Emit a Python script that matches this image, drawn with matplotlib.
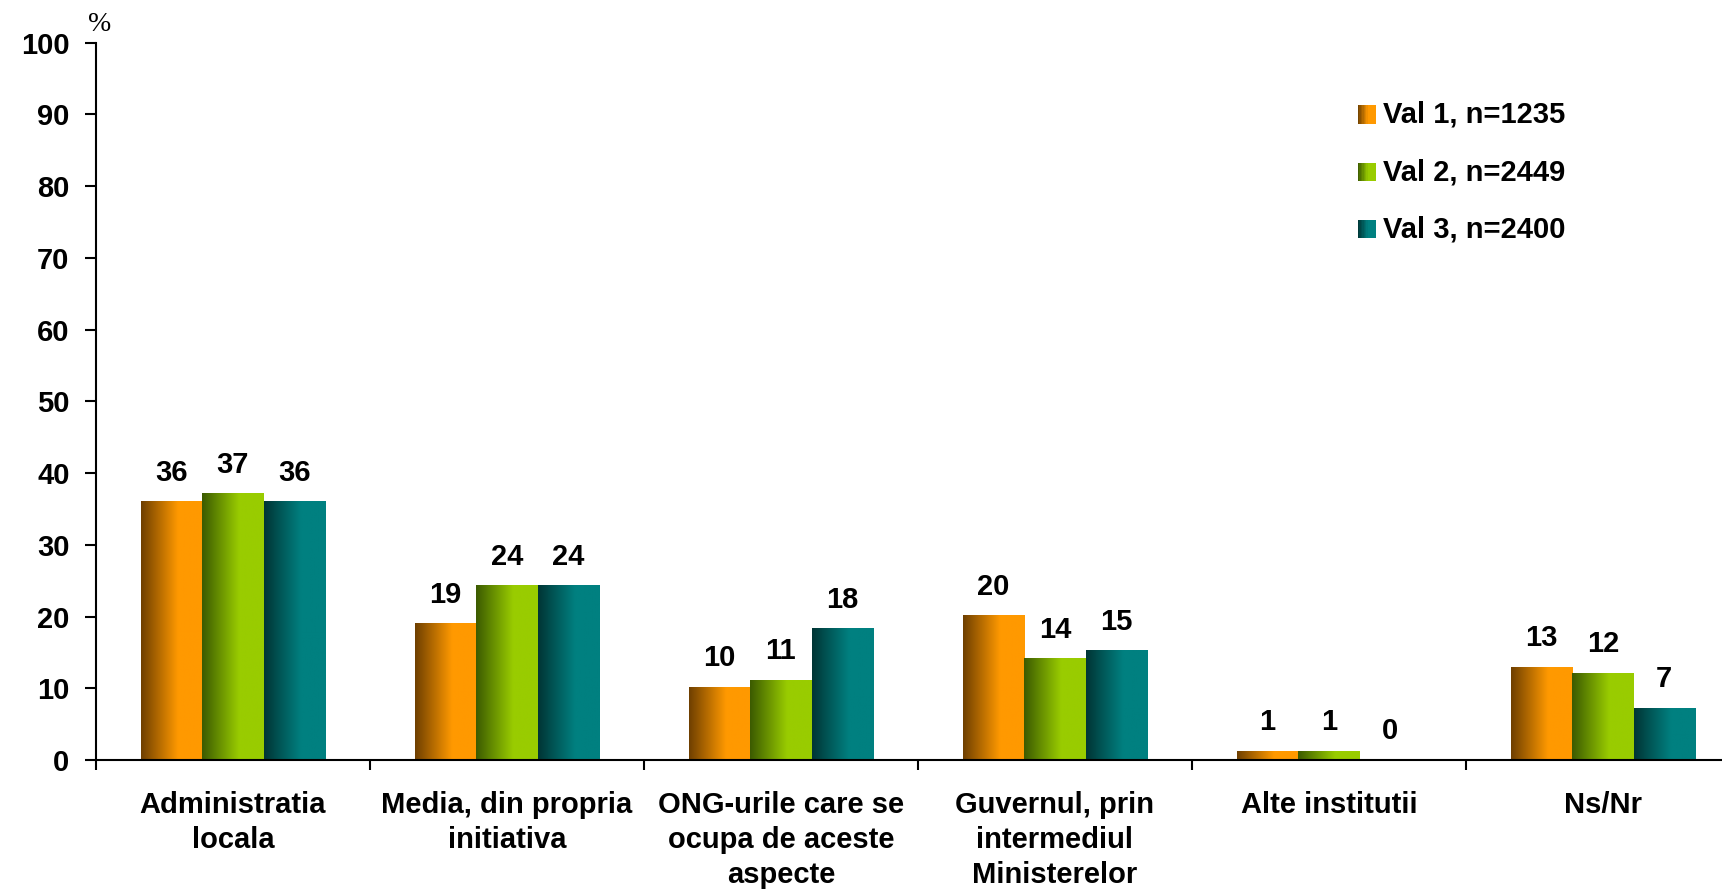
import numpy as np
import matplotlib
matplotlib.use("Agg")
import matplotlib.pyplot as plt
from matplotlib.colors import LinearSegmentedColormap
from matplotlib.legend_handler import HandlerBase
from matplotlib.patches import Rectangle

categories = [
    "Administratia\nlocala",
    "Media, din propria\ninitiativa",
    "ONG-urile care se\nocupa de aceste\naspecte",
    "Guvernul, prin\nintermediul\nMinisterelor",
    "Alte institutii",
    "Ns/Nr",
]
series_names = ["Val 1, n=1235", "Val 2, n=2449", "Val 3, n=2400"]
val1 = [36.0, 19.0, 10.1, 20.1, 1.2, 12.9]
val2 = [37.1, 24.3, 11.1, 14.1, 1.2, 12.1]
val3 = [36.0, 24.3, 18.3, 15.2, 0.0, 7.2]
labels1 = [36, 19, 10, 20, 1, 13]
labels2 = [37, 24, 11, 14, 1, 12]
labels3 = [36, 24, 18, 15, 0, 7]

# dark -> bright colour pairs for the bar gradients
grads = [("#6e3f00", "#ff9900"), ("#3b5a00", "#99cc00"), ("#003535", "#008080")]

FONT = "Liberation Sans"
FS = 21

plt.rcParams["font.family"] = FONT
plt.rcParams["font.weight"] = "bold"


def make_cmap(pair):
    return LinearSegmentedColormap.from_list(
        "g", [(0.0, pair[0]), (0.6, pair[1]), (1.0, pair[1])])


class GradHandler(HandlerBase):
    def __init__(self, pair):
        super().__init__()
        self.cmap = make_cmap(pair)

    def create_artists(self, legend, orig, xd, yd, width, height, fontsize, trans):
        n = 12
        arts = []
        for k in range(n):
            r = Rectangle((xd + width * k / n, yd), width / n + 0.3, height,
                          facecolor=self.cmap((k + 0.5) / n), edgecolor="none",
                          transform=trans)
            arts.append(r)
        return arts


fig = plt.figure(figsize=(17.22, 8.90), dpi=100)
ax = fig.add_axes([0.0557, 0.146, 0.9547, 0.806])

x = np.arange(len(categories))
w = 0.224
all_vals = [val1, val2, val3]
all_labels = [labels1, labels2, labels3]
grad_img = np.linspace(0, 1, 256).reshape(1, -1)
handles = []
for i, (vals, labs) in enumerate(zip(all_vals, all_labels)):
    bars = ax.bar(x + (i - 1) * w, vals, width=w, color="none", edgecolor="none",
                  label=series_names[i])
    handles.append(bars)
    cmap = make_cmap(grads[i])
    for b, lab in zip(bars, labs):
        x0, y0 = b.get_x(), b.get_y()
        bw, bh = b.get_width(), b.get_height()
        if bh > 0:
            ax.imshow(grad_img, cmap=cmap, aspect="auto",
                      extent=(x0, x0 + bw, y0, y0 + bh), zorder=2)
        ax.annotate(str(lab), (x0 + bw / 2, bh), xytext=(0, 21),
                    textcoords="offset points", ha="center", va="center",
                    fontsize=FS, fontweight="bold")

ax.set_xlim(-0.5, len(categories) - 0.5)
ax.set_ylim(0, 100)
ax.set_yticks(np.arange(0, 101, 10))
ax.tick_params(axis="y", length=8, width=1.5, pad=11, labelsize=FS)
ax.set_xticks(x)
ax.set_xticklabels(categories, fontsize=FS, fontweight="bold", linespacing=1.33,
                   va="top")
ax.tick_params(axis="x", which="major", length=0, pad=22)
ax.set_xticks(np.arange(len(categories)) - 0.5, minor=True)
ax.tick_params(axis="x", which="minor", length=7, width=1.5)
for s in ["top", "right"]:
    ax.spines[s].set_visible(False)
for s in ["left", "bottom"]:
    ax.spines[s].set_linewidth(1.5)

fig.text(0.051, 0.973, "%", fontsize=20, fontweight="normal",
         family="Liberation Serif", ha="left", va="center")

ax.legend(handles=handles, labels=series_names, loc="upper left",
          bbox_to_anchor=(0.780, 0.903), bbox_transform=fig.transFigure,
          frameon=False, prop={"family": FONT, "weight": "bold", "size": FS},
          handlelength=0.6, handleheight=0.6, handletextpad=0.25,
          labelspacing=1.0, borderpad=0,
          handler_map={handles[i]: GradHandler(grads[i]) for i in range(3)})

fig.savefig("out.png", dpi=100)
